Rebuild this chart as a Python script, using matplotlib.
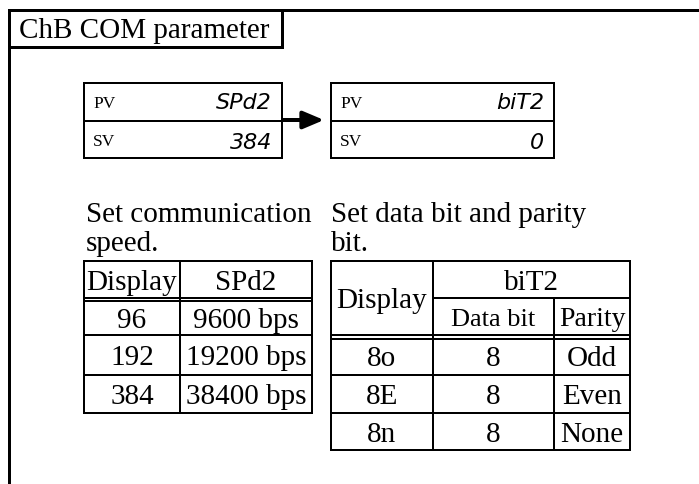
import matplotlib
matplotlib.use("Agg")
import matplotlib.pyplot as plt

# ---- data ----
title = "ChB COM parameter"
pv1, sv1 = "SPd2", "384"
pv2, sv2 = "biT2", "0"
speed_note = ["Set communication", "speed."]
bit_note = ["Set data bit and parity", "bit."]
speed_header = ["Display", "SPd2"]
speed_display = ["96", "192", "384"]
speed_values = ["9600 bps", "19200 bps", "38400 bps"]
bit_header = ["Display", "biT2", "Data bit", "Parity"]
bit_display = ["8o", "8E", "8n"]
data_bits = ["8", "8", "8"]
parity = ["Odd", "Even", "None"]

W, H = 699, 484
fig = plt.figure(figsize=(W / 100, H / 100), dpi=100)
ax = fig.add_axes([0, 0, 1, 1])
ax.set_xlim(0, W)
ax.set_ylim(H, 0)
ax.axis("off")

SERIF = "Liberation Serif"
px = 72 / 100.0  # points per pixel


def line(x0, y0, x1, y1, w=2.0):
    ax.plot([x0, x1], [y0, y1], color="black", lw=w * px, solid_capstyle="projecting")


def txt(x, y, s, size=21, ha="center", family=SERIF, **kw):
    ax.text(x, y, s, fontsize=size, ha=ha, va="baseline", family=family, color="black", **kw)


# outer frame
line(9, 10, W, 10, 3)
line(9, 10, 9, H, 3)
# title box
line(9, 47, 282, 47, 3)
line(282, 10, 282, 47, 3)
txt(19, 38, title, ha="left")

# display boxes
for (x0, x1, pv, sv) in [(84, 282, pv1, sv1), (331, 554, pv2, sv2)]:
    line(x0, 83, x1, 83, 2)
    line(x0, 121, x1, 121, 2)
    line(x0, 158, x1, 158, 2)
    line(x0, 83, x0, 158, 2)
    line(x1, 83, x1, 158, 2)
    txt(x0 + 9, 108, "PV", size=12.5, ha="left")
    txt(x0 + 9, 146, "SV", size=12.5, ha="left")
    dx = x1 - 10
    txt(dx, 109, pv, size=16, ha="right", family="DejaVu Sans", style="oblique", weight="light")
    txt(dx, 149, sv, size=16, ha="right", family="DejaVu Sans", style="oblique", weight="light")

ax.annotate("", xy=(324, 120), xytext=(283, 120),
            arrowprops=dict(arrowstyle="-|>,head_length=0.9,head_width=0.38", lw=4 * px,
                            color="black", shrinkA=0, shrinkB=0, mutation_scale=14))

# notes
txt(86, 222, speed_note[0], ha="left")
txt(86, 251, speed_note[1], ha="left")
txt(331, 222, bit_note[0], ha="left")
txt(331, 251, bit_note[1], ha="left")

# left table
lx = [84, 180, 312]
ly = [261, 298, 335, 375, 413]
for y in ly:
    line(lx[0], y, lx[-1], y, 2)
line(lx[0], 300.5, lx[-1], 300.5, 2)
for x in lx:
    line(x, ly[0], x, ly[-1], 2)
OFF = 10
txt((lx[0] + lx[1]) / 2, (ly[0] + ly[1]) / 2 + OFF, speed_header[0])
txt((lx[1] + lx[2]) / 2, (ly[0] + ly[1]) / 2 + OFF, speed_header[1])
for i in range(3):
    cy = (ly[i + 1] + ly[i + 2]) / 2 + OFF + (1.5 if i == 0 else 0)
    txt((lx[0] + lx[1]) / 2, cy, speed_display[i])
    txt((lx[1] + lx[2]) / 2, cy, speed_values[i])

# right table
rx = [331, 433, 554, 630]
ry = [261, 298, 335, 375, 413, 450]
line(rx[0], ry[0], rx[-1], ry[0], 2)
line(rx[1], ry[1], rx[-1], ry[1], 2)
line(rx[0], ry[2], rx[-1], ry[2], 2)
line(rx[0], ry[2] + 3.5, rx[-1], ry[2] + 3.5, 2)
for y in ry[3:]:
    line(rx[0], y, rx[-1], y, 2)
line(rx[0], ry[0], rx[0], ry[-1], 2)
line(rx[1], ry[0], rx[1], ry[-1], 2)
line(rx[2], ry[1], rx[2], ry[-1], 2)
line(rx[3], ry[0], rx[3], ry[-1], 2)
txt((rx[0] + rx[1]) / 2, (ry[0] + ry[2]) / 2 + OFF, bit_header[0])
txt((rx[1] + rx[3]) / 2, (ry[0] + ry[1]) / 2 + OFF, bit_header[1])
txt((rx[1] + rx[2]) / 2, (ry[1] + ry[2]) / 2 + OFF, bit_header[2], size=19)
txt((rx[2] + rx[3]) / 2, (ry[1] + ry[2]) / 2 + OFF, bit_header[3], size=20)
for i in range(3):
    cy = (ry[i + 2] + ry[i + 3]) / 2 + OFF + (1.5 if i == 0 else 0)
    txt((rx[0] + rx[1]) / 2, cy, bit_display[i])
    txt((rx[1] + rx[2]) / 2, cy, data_bits[i])
    txt((rx[2] + rx[3]) / 2, cy, parity[i])

fig.savefig("out.png", dpi=100)
